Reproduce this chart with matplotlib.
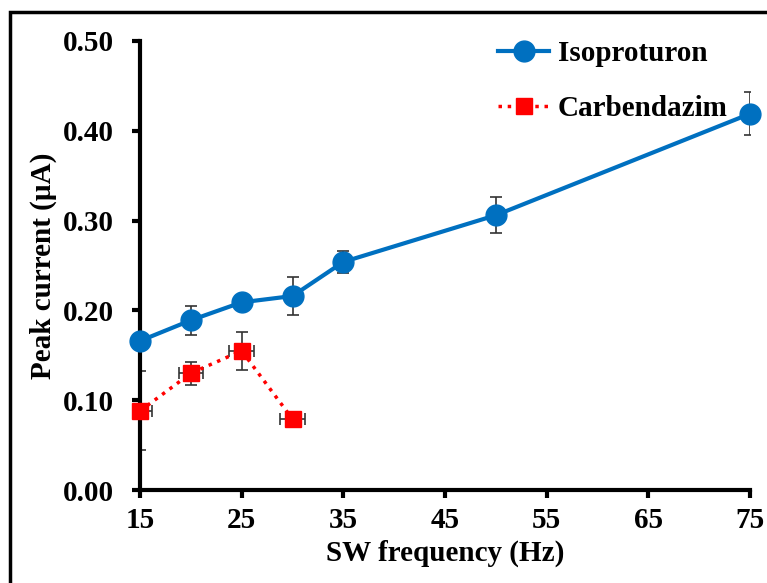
import numpy as np
import matplotlib.pyplot as plt
from matplotlib.patches import Rectangle

plt.rcParams['font.family'] = ['Liberation Serif', 'DejaVu Serif']
plt.rcParams['font.weight'] = 'bold'

freq_iso = [15, 20, 25, 30, 35, 50, 75]
iso = [0.166, 0.189, 0.209, 0.216, 0.254, 0.306, 0.419]
iso_err = [0.008, 0.016, 0.005, 0.021, 0.012, 0.020, 0.024]

freq_carb = [15, 20, 25, 30]
carb = [0.088, 0.130, 0.155, 0.079]
carb_err = [0.044, 0.013, 0.021, 0.004]
carb_xerr = [1.2, 1.2, 1.2, 1.2]

fig = plt.figure(figsize=(7.67, 5.83), dpi=100)
ax = fig.add_axes([0.1825, 0.1595, 0.7955, 0.7702])

ax.errorbar(freq_iso, iso, yerr=iso_err, fmt='none', ecolor='#333333',
            elinewidth=1.2, capsize=4, capthick=1.2, zorder=2)
ax.plot(freq_iso, iso, color='#0070C0', lw=3, marker='o', ms=15,
        label='Isoproturon', zorder=3, clip_on=False)

ax.errorbar(freq_carb, carb, yerr=carb_err, xerr=carb_xerr, fmt='none',
            ecolor='#333333', elinewidth=1.2, capsize=4, capthick=1.2, zorder=2)
ax.plot(freq_carb, carb, color='#FF0000', lw=2.5, ls=':', marker='s', ms=11,
        label='Carbendazim', zorder=3, clip_on=False)

ax.set_xlim(15, 75)
ax.set_ylim(0, 0.5)
ax.set_xticks(np.arange(15, 76, 10))
ax.set_yticks(np.arange(0, 0.51, 0.1))
ax.set_yticklabels(['%.2f' % v for v in np.arange(0, 0.51, 0.1)])
for s in ['top', 'right']:
    ax.spines[s].set_visible(False)
for s in ['left', 'bottom']:
    ax.spines[s].set_linewidth(3)
ax.tick_params(labelsize=21, width=3, length=6)
ax.tick_params(axis='y', pad=13)
ax.tick_params(axis='x', pad=6)

ax.set_xlabel('SW frequency (Hz)', fontsize=21, fontweight='bold', labelpad=4)
ax.set_ylabel('Peak current (µA)', fontsize=21, fontweight='bold', labelpad=4)

fig.legend(*ax.get_legend_handles_labels(), loc='upper left',
           bbox_to_anchor=(472/767, 1 - 14/583), frameon=False,
           fontsize=21, handlelength=1.75, handletextpad=0.3,
           labelspacing=0.95, borderpad=0.4)

fig.patches.append(Rectangle((10/767, -0.1), 1.2, 1 - 12/583 + 0.1,
                             transform=fig.transFigure, fill=False,
                             edgecolor='black', lw=2.5))

fig.savefig('out.png', dpi=100)
